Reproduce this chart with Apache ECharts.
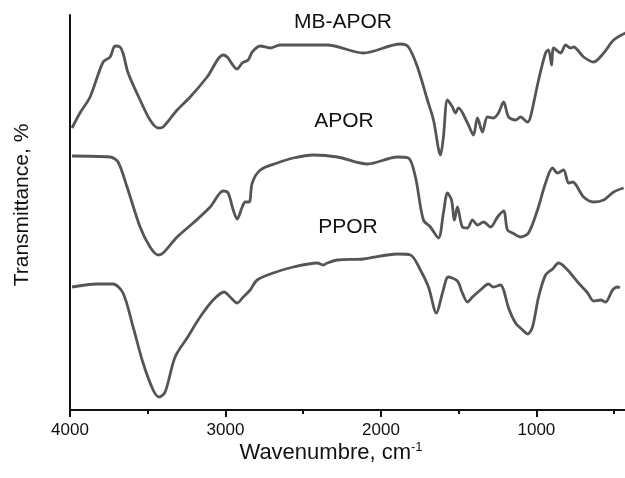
<!DOCTYPE html>
<html><head><meta charset="utf-8">
<script src="https://cdn.jsdelivr.net/npm/echarts@6/dist/echarts.min.js"></script>
<style>html,body{margin:0;padding:0;background:#fff}#c{width:625px;height:478px}</style>
</head><body><div id="c"></div>
<script>
// Wavenumber (cm-1) and offset transmittance (arbitrary units)
const mbWave = [3987,3936,3871,3787,3742,3710,3678,3659,3626,3549,3485,3433,3401,3311,3227,3118,3015,2989,2925,2892,2854,2828,2776,2712,2648,2345,2113,1875,1823,1765,1701,1662,1617,1598,1572,1540,1521,1501,1443,1405,1379,1347,1315,1276,1244,1211,1179,1134,1102,1057,1038,986,941,922,902,889,844,812,780,761,696,632,567,503,426];
const mbT    = [282,297,313,348,353,364,363,357,337,310,290,282,283,300,313,333,355,353,341,347,350,358,364,362,365,365,357,366,363,343,310,290,255,273,310,303,297,302,287,275,292,278,293,292,297,308,293,290,293,288,293,330,357,360,345,362,357,365,362,363,353,348,357,370,377];
const apWave = [3987,3742,3691,3633,3549,3485,3433,3401,3311,3208,3098,3015,2983,2950,2925,2892,2873,2847,2828,2776,2667,2564,2435,2280,2087,1894,1823,1778,1727,1682,1630,1598,1572,1546,1527,1508,1476,1443,1411,1379,1340,1295,1250,1211,1186,1153,1102,1051,993,941,896,864,825,793,767,696,632,567,503,439];
const apT    = [254,253,248,223,183,163,155,157,173,187,203,219,217,200,191,203,208,208,227,240,247,252,255,253,246,253,252,233,190,183,172,197,217,210,190,203,183,182,190,185,188,183,193,199,180,177,173,177,200,227,242,237,240,227,228,213,208,210,218,222];
const ppWave = [3987,3826,3723,3659,3594,3530,3465,3427,3388,3324,3247,3163,3079,3008,2970,2925,2886,2841,2796,2693,2564,2409,2371,2345,2280,2113,1894,1810,1746,1694,1643,1604,1566,1508,1476,1443,1411,1360,1308,1276,1231,1211,1179,1134,1089,1057,1025,986,941,896,857,799,735,670,632,587,555,510,477,464];
const ppT    = [123,126,126,117,83,47,20,13,18,53,72,93,110,118,113,107,113,120,130,137,143,147,145,147,150,151,156,155,140,123,97,117,133,129,117,108,113,120,126,123,125,120,102,87,80,76,83,113,135,141,147,140,128,117,109,110,108,120,123,122];
const majorTicks = [4000,3000,2000,1000];
const minorTicks = [3500,2500,1500,500];
const seriesNames = ['MB-APOR','APOR','PPOR'];

const zip = (a,b)=>a.map((v,i)=>[v,b[i]]);
const FONT = 'Liberation Sans, Arial, sans-serif';
const chart = echarts.init(document.getElementById('c'));
const lineStyle = {color:'#555555', width:2.8};
const baseX = {type:'value',inverse:true,min:430,max:4000,position:'bottom',splitLine:{show:false}};
chart.setOption({
  animation:false,
  grid:{left:70,right:0,top:15,bottom:68,containLabel:false},
  xAxis:[
    Object.assign({}, baseX, {
      axisLine:{lineStyle:{color:'#111',width:2}},
      axisTick:{show:true,customValues:majorTicks,length:7,lineStyle:{color:'#111',width:2}},
      axisLabel:{customValues:majorTicks,formatter:v=>String(v),color:'#111',fontSize:17,fontFamily:FONT,margin:12}
    }),
    Object.assign({}, baseX, {
      axisLine:{show:false},
      axisTick:{show:true,customValues:minorTicks,length:4,lineStyle:{color:'#111',width:2}},
      axisLabel:{show:false}
    })
  ],
  yAxis:{type:'value',min:0,max:395,
    axisLine:{show:true,lineStyle:{color:'#111',width:2}},
    axisTick:{show:false},axisLabel:{show:false},splitLine:{show:false}
  },
  graphic:[
    {type:'text',x:343,y:22,style:{text:seriesNames[0],fill:'#111',font:'21px "Liberation Sans", Arial',align:'center',verticalAlign:'middle'}},
    {type:'text',x:344,y:121,style:{text:seriesNames[1],fill:'#111',font:'21px "Liberation Sans", Arial',align:'center',verticalAlign:'middle'}},
    {type:'text',x:348,y:227,style:{text:seriesNames[2],fill:'#111',font:'21px "Liberation Sans", Arial',align:'center',verticalAlign:'middle'}},
    {type:'text',x:22,y:205,rotation:Math.PI/2,style:{text:'Transmittance, %',fill:'#111',font:'21px "Liberation Sans", Arial',align:'center',verticalAlign:'middle'}},
    {type:'text',x:331,y:453,style:{text:'Wavenumbre, cm{sup|-1}',fill:'#111',font:'22px "Liberation Sans", Arial',align:'center',verticalAlign:'middle',
      rich:{sup:{font:'13px "Liberation Sans", Arial',fill:'#111',verticalAlign:'top',padding:[0,0,12,0]}}}}
  ],
  series:[
    {name:seriesNames[0],type:'line',data:zip(mbWave,mbT),showSymbol:false,smooth:0.3,lineStyle},
    {name:seriesNames[1],type:'line',data:zip(apWave,apT),showSymbol:false,smooth:0.3,lineStyle},
    {name:seriesNames[2],type:'line',data:zip(ppWave,ppT),showSymbol:false,smooth:0.3,lineStyle}
  ]
});
</script></body></html>
